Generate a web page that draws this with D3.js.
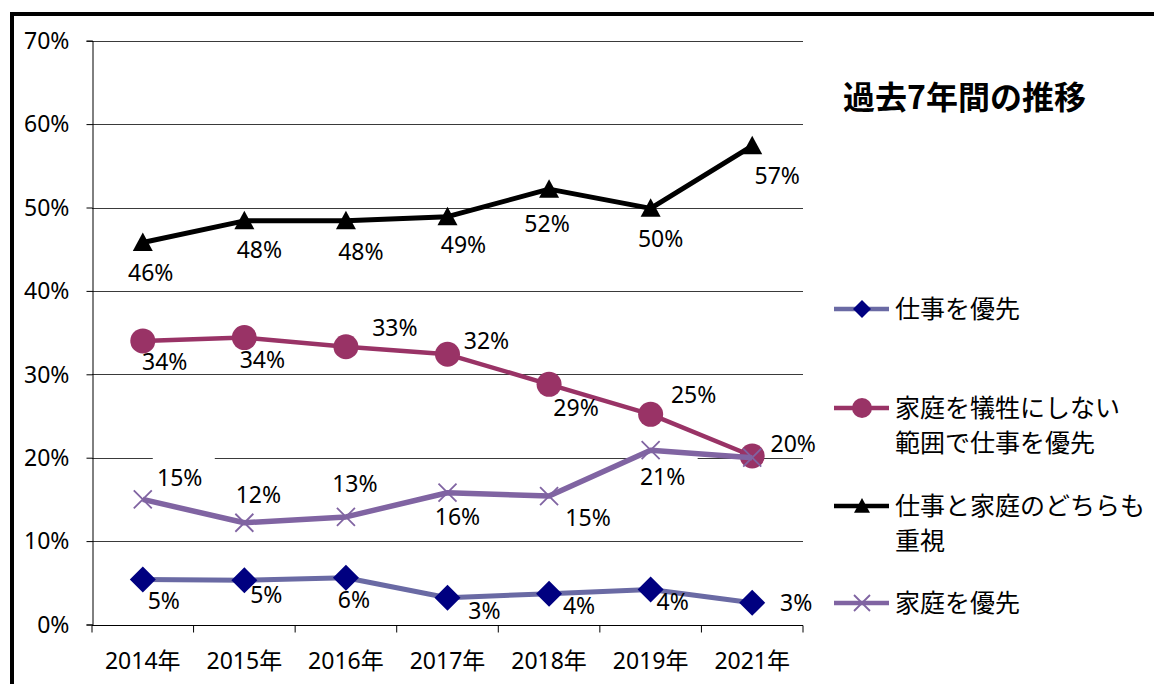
<!DOCTYPE html>
<html>
<head>
<meta charset="utf-8">
<script src="https://cdn.jsdelivr.net/npm/d3@7"></script>
<style>
body { margin: 0; background: #fff; }
text { font-family: "Noto Sans", "Noto Sans CJK JP", sans-serif; fill: #000; }
.jp { font-family: "Noto Sans CJK JP", sans-serif; }
</style>
</head>
<body>
<svg width="1154" height="684"></svg>
<script>
// data (percent)
var years = ['2014年', '2015年', '2016年', '2017年', '2018年', '2019年', '2021年'];
var workFirst = [5.4, 5.3, 5.6, 3.2, 3.7, 4.2, 2.6];
var workNoSacrifice = [34.0, 34.4, 33.3, 32.4, 28.8, 25.2, 20.2];
var bothEqual = [45.8, 48.4, 48.4, 48.9, 52.2, 49.9, 57.4];
var familyFirst = [15.0, 12.2, 12.9, 15.8, 15.4, 20.9, 20.0];
var yTicks = [0, 10, 20, 30, 40, 50, 60, 70];
var legendNames = [
    ['仕事を優先'],
    ['家庭を犠牲にしない', '範囲で仕事を優先'],
    ['仕事と家庭のどちらも', '重視'],
    ['家庭を優先']
];
var title = '過去7年間の推移';

// hand placed data labels (dx, dy of baseline from the marker), null = hidden
var labelNudge = [
    [[21, 30], [22, 23], [8, 30], [37, 21], [30, 20], [22, 21], [44, 8]],
    [[22, 29], [18, 30], [49, -11], [39, -5], [27, 32], [43, -11], [41, -4]],
    [[8, 38], [15, 37], [15, 39], [16, 36], [-2, 43], [10, 39], [25, 38]],
    [[37, -13], [14, -20], [9, -25], [10, 32], [39, 30], [12, 35], null]
];

var series = [
    {values: workFirst, line: '#6a6aa4', width: 5, marker: 'diamond', fill: '#000080', size: 13},
    {values: workNoSacrifice, line: '#993366', width: 4.5, marker: 'circle', fill: '#993366', size: 12.5},
    {values: bothEqual, line: '#000000', width: 5, marker: 'triangle', fill: '#000000', size: 10},
    {values: familyFirst, line: '#8064a2', width: 5.5, marker: 'cross', fill: '#8064a2', size: 9, box: true}
];

var svg = d3.select('svg');

// frame
svg.append('path')
    .attr('d', 'M12,684 V14 H1154')
    .attr('fill', 'none')
    .attr('stroke', '#000')
    .attr('stroke-width', 4);

var plotLeft = 92, plotRight = 803, plotTop = 40.7, plotBottom = 624.5;
var x = d3.scaleBand().domain(years).range([plotLeft, plotRight]).padding(0);
var y = d3.scaleLinear().domain([0, 70]).range([plotBottom, plotTop]);

// gridlines
svg.append('g').selectAll('line')
    .data(yTicks.slice(1))
    .enter().append('line')
    .attr('x1', plotLeft).attr('x2', plotRight)
    .attr('y1', d => Math.round(y(d)) + 0.5).attr('y2', d => Math.round(y(d)) + 0.5)
    .attr('stroke', '#3a3a3a')
    .attr('stroke-width', 1.2);

// y axis
var yAxis = d3.axisLeft(y).tickValues(yTicks).tickSize(6).tickPadding(17)
    .tickFormat(d => d + '%');
var gy = svg.append('g').attr('transform', 'translate(' + (plotLeft + 0.5) + ',0)').call(yAxis);
gy.select('.domain').attr('stroke', '#000');
gy.selectAll('.tick line').attr('stroke', '#000');
gy.selectAll('text').attr('font-size', 23).attr('font-family', '"Noto Sans", sans-serif')
    .attr('fill', '#000').attr('dy', '0.34em');

// x axis with ticks between categories
var gx = svg.append('g').attr('transform', 'translate(0,' + (Math.round(plotBottom) + 0.5) + ')');
gx.append('line').attr('x1', plotLeft).attr('x2', plotRight).attr('stroke', '#000');
gx.selectAll('.tk')
    .data(years.concat(['end']))
    .enter().append('line')
    .attr('class', 'tk')
    .attr('x1', (d, i) => i < years.length ? x(d) : plotRight)
    .attr('x2', (d, i) => i < years.length ? x(d) : plotRight)
    .attr('y1', 0).attr('y2', 7)
    .attr('stroke', '#000');
gx.selectAll('text')
    .data(years)
    .enter().append('text')
    .attr('x', d => x(d) + x.bandwidth() / 2)
    .attr('y', 43)
    .attr('text-anchor', 'middle')
    .attr('font-size', 23)
    .text(d => d);

function markerPath(type, s) {
    if (type == 'diamond') return 'M0,' + (-s) + 'L' + s + ',0L0,' + s + 'L' + (-s) + ',0Z';
    if (type == 'triangle') return 'M0,' + (-s) + 'L' + s + ',' + (s * 0.85) + 'L' + (-s) + ',' + (s * 0.85) + 'Z';
    if (type == 'cross') return 'M' + (-s) + ',' + (-s) + 'L' + s + ',' + s + 'M' + s + ',' + (-s) + 'L' + (-s) + ',' + s;
    return d3.symbol(d3.symbolCircle, Math.PI * s * s)();
}
function drawMarker(g, sr, s) {
    var p = g.append('path').attr('d', markerPath(sr.marker, s));
    if (sr.marker == 'cross') p.attr('fill', 'none').attr('stroke', sr.fill).attr('stroke-width', 1.8);
    else p.attr('fill', sr.fill);
    return p;
}

var cx = d => x(d) + x.bandwidth() / 2;

// white label boxes sit over gridlines only
series.forEach(function(sr, si) {
    if (!sr.box) return;
    svg.append('g').selectAll('rect')
        .data(years.filter((d, i) => labelNudge[si][i]))
        .enter().append('rect')
        .attr('x', (d) => cx(d) + labelNudge[si][years.indexOf(d)][0] - 27)
        .attr('y', (d) => y(sr.values[years.indexOf(d)]) + labelNudge[si][years.indexOf(d)][1] - 30)
        .attr('width', 62).attr('height', 35)
        .attr('fill', '#fff');
});

var line = d3.line().x((d, i) => cx(years[i])).y(d => y(d));
series.forEach(function(sr) {
    svg.append('path')
        .datum(sr.values)
        .attr('d', line)
        .attr('fill', 'none')
        .attr('stroke', sr.line)
        .attr('stroke-width', sr.width)
        .attr('stroke-linejoin', 'round');
    sr.values.forEach(function(v, i) {
        var g = svg.append('g').attr('transform', 'translate(' + cx(years[i]) + ',' + y(v) + ')');
        drawMarker(g, sr, sr.size);
    });
});

// data labels
series.forEach(function(sr, si) {
    svg.append('g').selectAll('text')
        .data(sr.values)
        .enter().filter((d, i) => labelNudge[si][i])
        .append('text')
        .attr('x', (d, i) => cx(years[i]) + labelNudge[si][i][0])
        .attr('y', (d, i) => y(d) + labelNudge[si][i][1])
        .attr('text-anchor', 'middle')
        .attr('font-size', 23)
        .text(d => Math.round(d) + '%');
});

// title
svg.append('text')
    .attr('class', 'jp')
    .attr('x', 843).attr('y', 109)
    .attr('font-size', 32)
    .attr('font-weight', 'bold')
    .text(title);

// legend
var legendY = [309, 408, 506, 603];
var lg = svg.append('g');
series.forEach(function(sr, i) {
    var ly = legendY[i];
    lg.append('line')
        .attr('x1', 834).attr('x2', 889)
        .attr('y1', ly).attr('y2', ly)
        .attr('stroke', sr.line)
        .attr('stroke-width', 4.5);
    var g = lg.append('g').attr('transform', 'translate(862,' + ly + ')');
    drawMarker(g, sr, sr.marker == 'circle' ? 10 : sr.marker == 'diamond' ? 9 : 8);
    legendNames[i].forEach(function(t, j) {
        lg.append('text')
            .attr('class', 'jp')
            .attr('x', 895)
            .attr('y', ly + 9 + j * 35)
            .attr('font-size', 25)
            .text(t);
    });
});
</script>
</body>
</html>
